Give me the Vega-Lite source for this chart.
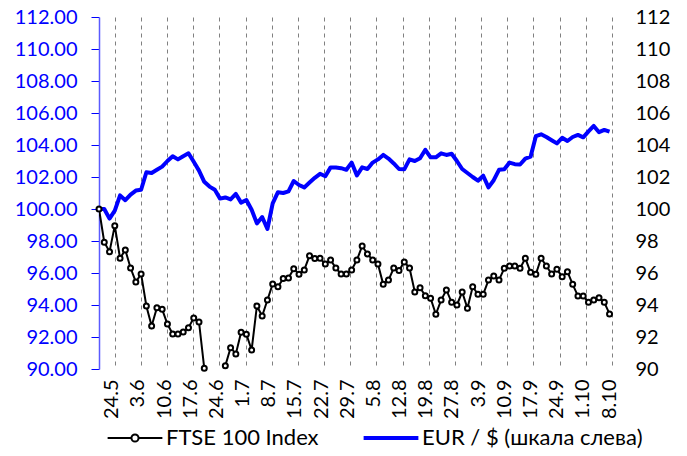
{
  "$schema": "https://vega.github.io/schema/vega-lite/v6.json",
  "width": 513,
  "height": 352,
  "autosize": {"type": "none"},
  "padding": {"left": 99, "top": 17, "right": 75, "bottom": 87},
  "config": {
    "view": {"stroke": null},
    "font": "Lato",
    "axis": {"labelFont": "Lato", "labelFontSize": 20, "titleFont": "Lato"},
    "legend": {"labelFont": "Lato", "labelFontSize": 22, "labelColor": "black", "labelLimit": 400}
  },
  "data": {"values": [
    {"i":0,"ftse":100.0,"eur":100.0},{"i":1,"ftse":97.92,"eur":100.0},{"i":2,"ftse":97.33,"eur":99.4},{"i":3,"ftse":98.96,"eur":99.9},
    {"i":4,"ftse":96.92,"eur":100.85},{"i":5,"ftse":97.44,"eur":100.55},{"i":6,"ftse":96.31,"eur":100.9},{"i":7,"ftse":95.44,"eur":101.15},
    {"i":8,"ftse":95.94,"eur":101.2},{"i":9,"ftse":93.94,"eur":102.3},{"i":10,"ftse":92.69,"eur":102.25},{"i":11,"ftse":93.83,"eur":102.45},
    {"i":12,"ftse":93.73,"eur":102.65},{"i":13,"ftse":92.81,"eur":103.0},{"i":14,"ftse":92.19,"eur":103.3},{"i":15,"ftse":92.19,"eur":103.1},
    {"i":16,"ftse":92.31,"eur":103.3},{"i":17,"ftse":92.58,"eur":103.48},{"i":18,"ftse":93.19,"eur":102.95},{"i":19,"ftse":92.94,"eur":102.4},
    {"i":20,"ftse":90.04,"eur":101.7},{"i":21,"ftse":88.8,"eur":101.4},{"i":22,"ftse":88.5,"eur":101.2},{"i":23,"ftse":88.7,"eur":100.65},
    {"i":24,"ftse":90.2,"eur":100.72},{"i":25,"ftse":91.33,"eur":100.6},{"i":26,"ftse":90.94,"eur":100.94},{"i":27,"ftse":92.29,"eur":100.4},
    {"i":28,"ftse":92.17,"eur":100.56},{"i":29,"ftse":91.19,"eur":99.95},{"i":30,"ftse":93.94,"eur":99.1},{"i":31,"ftse":93.31,"eur":99.5},
    {"i":32,"ftse":94.31,"eur":98.75},{"i":33,"ftse":95.31,"eur":100.35},{"i":34,"ftse":95.14,"eur":101.05},{"i":35,"ftse":95.65,"eur":101.0},
    {"i":36,"ftse":95.69,"eur":101.1},{"i":37,"ftse":96.27,"eur":101.75},{"i":38,"ftse":95.92,"eur":101.5},{"i":39,"ftse":96.19,"eur":101.35},
    {"i":40,"ftse":97.08,"eur":101.65},{"i":41,"ftse":96.9,"eur":101.95},{"i":42,"ftse":96.92,"eur":102.2},{"i":43,"ftse":96.56,"eur":102.05},
    {"i":44,"ftse":96.81,"eur":102.6},{"i":45,"ftse":96.31,"eur":102.6},{"i":46,"ftse":95.94,"eur":102.55},{"i":47,"ftse":95.94,"eur":102.45},
    {"i":48,"ftse":96.19,"eur":102.9},{"i":49,"ftse":96.81,"eur":102.1},{"i":50,"ftse":97.69,"eur":102.6},{"i":51,"ftse":97.19,"eur":102.5},
    {"i":52,"ftse":96.81,"eur":102.9},{"i":53,"ftse":96.56,"eur":103.1},{"i":54,"ftse":95.29,"eur":103.38},{"i":55,"ftse":95.56,"eur":103.15},
    {"i":56,"ftse":96.31,"eur":102.85},{"i":57,"ftse":96.15,"eur":102.5},{"i":58,"ftse":96.69,"eur":102.48},{"i":59,"ftse":96.31,"eur":103.1},
    {"i":60,"ftse":94.81,"eur":103.0},{"i":61,"ftse":95.08,"eur":103.17},{"i":62,"ftse":94.58,"eur":103.7},{"i":63,"ftse":94.42,"eur":103.23},
    {"i":64,"ftse":93.42,"eur":103.23},{"i":65,"ftse":94.31,"eur":103.48},{"i":66,"ftse":94.94,"eur":103.38},{"i":67,"ftse":94.17,"eur":103.45},
    {"i":68,"ftse":94.0,"eur":103.0},{"i":69,"ftse":94.81,"eur":102.5},{"i":70,"ftse":93.79,"eur":102.25},{"i":71,"ftse":95.14,"eur":102.0},
    {"i":72,"ftse":94.67,"eur":101.77},{"i":73,"ftse":94.67,"eur":102.08},{"i":74,"ftse":95.56,"eur":101.35},{"i":75,"ftse":95.81,"eur":101.8},
    {"i":76,"ftse":95.56,"eur":102.45},{"i":77,"ftse":96.29,"eur":102.48},{"i":78,"ftse":96.44,"eur":102.9},{"i":79,"ftse":96.44,"eur":102.8},
    {"i":80,"ftse":96.29,"eur":102.78},{"i":81,"ftse":96.92,"eur":103.15},{"i":82,"ftse":96.04,"eur":103.27},{"i":83,"ftse":95.92,"eur":104.55},
    {"i":84,"ftse":96.92,"eur":104.67},{"i":85,"ftse":96.44,"eur":104.5},{"i":86,"ftse":95.94,"eur":104.3},{"i":87,"ftse":96.23,"eur":104.1},
    {"i":88,"ftse":95.77,"eur":104.45},{"i":89,"ftse":96.08,"eur":104.25},{"i":90,"ftse":95.29,"eur":104.5},{"i":91,"ftse":94.56,"eur":104.63},
    {"i":92,"ftse":94.56,"eur":104.48},{"i":93,"ftse":94.17,"eur":104.85},{"i":94,"ftse":94.31,"eur":105.19},{"i":95,"ftse":94.46,"eur":104.8},
    {"i":96,"ftse":94.17,"eur":104.94},{"i":97,"ftse":93.44,"eur":104.83}
  ]},
  "encoding": {
    "x": {
      "field": "i", "type": "quantitative",
      "scale": {"domain": [0, 97.468], "nice": false, "zero": false},
      "axis": {
        "title": null,
        "values": [3, 7.972, 12.944, 17.916, 22.888, 27.86, 32.832, 37.804, 42.776, 47.748, 52.72, 57.692, 62.664, 67.636, 72.608, 77.58, 82.552, 87.524, 92.496, 97.468],
        "labelExpr": "['24.5','3.6','10.6','17.6','24.6','1.7','8.7','15.7','22.7','29.7','5.8','12.8','19.8','27.8','3.9','10.9','17.9','24.9','1.10','8.10'][round((datum.value-3)/4.972)]",
        "labelAngle": -90,
        "labelPadding": 10,
        "labelOffset": -3,
        "labelColor": "black",
        "labelOverlap": false,
        "labelBound": false,
        "labelFlush": false,
        "domain": false,
        "ticks": false,
        "grid": true,
        "gridColor": "#808080",
        "gridDash": [4, 4],
        "gridWidth": 1,
        "gridOpacity": 1
      }
    },
    "y": {
      "field": "eur", "type": "quantitative",
      "scale": {"domain": [90, 112], "nice": false, "zero": false},
      "axis": {
        "orient": "left", "title": null,
        "values": [90, 92, 94, 96, 98, 100, 102, 104, 106, 108, 110, 112],
        "format": ".2f",
        "labelColor": "#0000ff",
        "labelOverlap": false,
        "tickColor": "#0000ff",
        "tickSize": 8,
        "labelPadding": 14,
        "domainColor": "#5a5aff",
        "domainWidth": 1.5,
        "grid": false
      }
    }
  },
  "layer": [
    {
      "data": {"values": [
        {"level": 90}, {"level": 92}, {"level": 94}, {"level": 96}, {"level": 98}, {"level": 100},
        {"level": 102}, {"level": 104}, {"level": 106}, {"level": 108}, {"level": 110}, {"level": 112}
      ]},
      "mark": {"type": "rule", "color": "#808080", "strokeWidth": 1, "strokeDash": [4, 4]},
      "encoding": {
        "x": {"datum": 0},
        "x2": {"datum": 97.468},
        "y": {"field": "level", "type": "quantitative", "axis": null}
      }
    },
    {
      "mark": {"type": "line", "strokeWidth": 4, "clip": true, "strokeJoin": "round"},
      "encoding": {
        "color": {
          "datum": "EUR / $ (шкала слева)",
          "scale": {"domain": ["FTSE 100 Index", "EUR / $ (шкала слева)"], "range": ["black", "#0000ff"]},
          "legend": {
            "title": null,
            "orient": "none",
            "legendX": 25,
            "legendY": 410,
            "direction": "horizontal",
            "symbolSize": 3000,
            "labelOffset": 20,
            "columnPadding": 36,
            "labelLimit": 400,
            "encode": {
              "symbols": {
                "update": {
                  "shape": {"signal": "datum.value === 'FTSE 100 Index' ? 'M-1,0H-0.13M0.13,0H1M0.13,0A0.13,0.13 0 1,1 -0.13,0A0.13,0.13 0 1,1 0.13,0' : 'M-1,0H1'"},
                  "strokeWidth": {"signal": "datum.value === 'FTSE 100 Index' ? 2 : 4"},
                  "fill": {"value": "white"},
                  "opacity": {"value": 1}
                }
              }
            }
          }
        }
      }
    },
    {
      "encoding": {
        "y": {
          "field": "ftse", "type": "quantitative",
          "scale": {"domain": [90, 112], "nice": false, "zero": false},
          "axis": {
            "orient": "right", "title": null,
            "values": [90, 92, 94, 96, 98, 100, 102, 104, 106, 108, 110, 112],
            "format": "d",
            "labelColor": "black",
            "labelOverlap": false,
            "domain": false,
            "ticks": false,
            "labelPadding": 23,
            "grid": false
          }
        }
      },
      "layer": [
        {
          "mark": {"type": "line", "strokeWidth": 2, "clip": true},
          "encoding": {"color": {"datum": "FTSE 100 Index"}}
        },
        {
          "transform": [{"filter": "datum.ftse >= 90"}],
          "mark": {"type": "point", "shape": "circle", "filled": false, "fill": "white", "fillOpacity": 1, "stroke": "black", "strokeWidth": 2, "size": 25, "opacity": 1}
        }
      ]
    }
  ],
  "resolve": {"axis": {"y": "independent"}}
}
